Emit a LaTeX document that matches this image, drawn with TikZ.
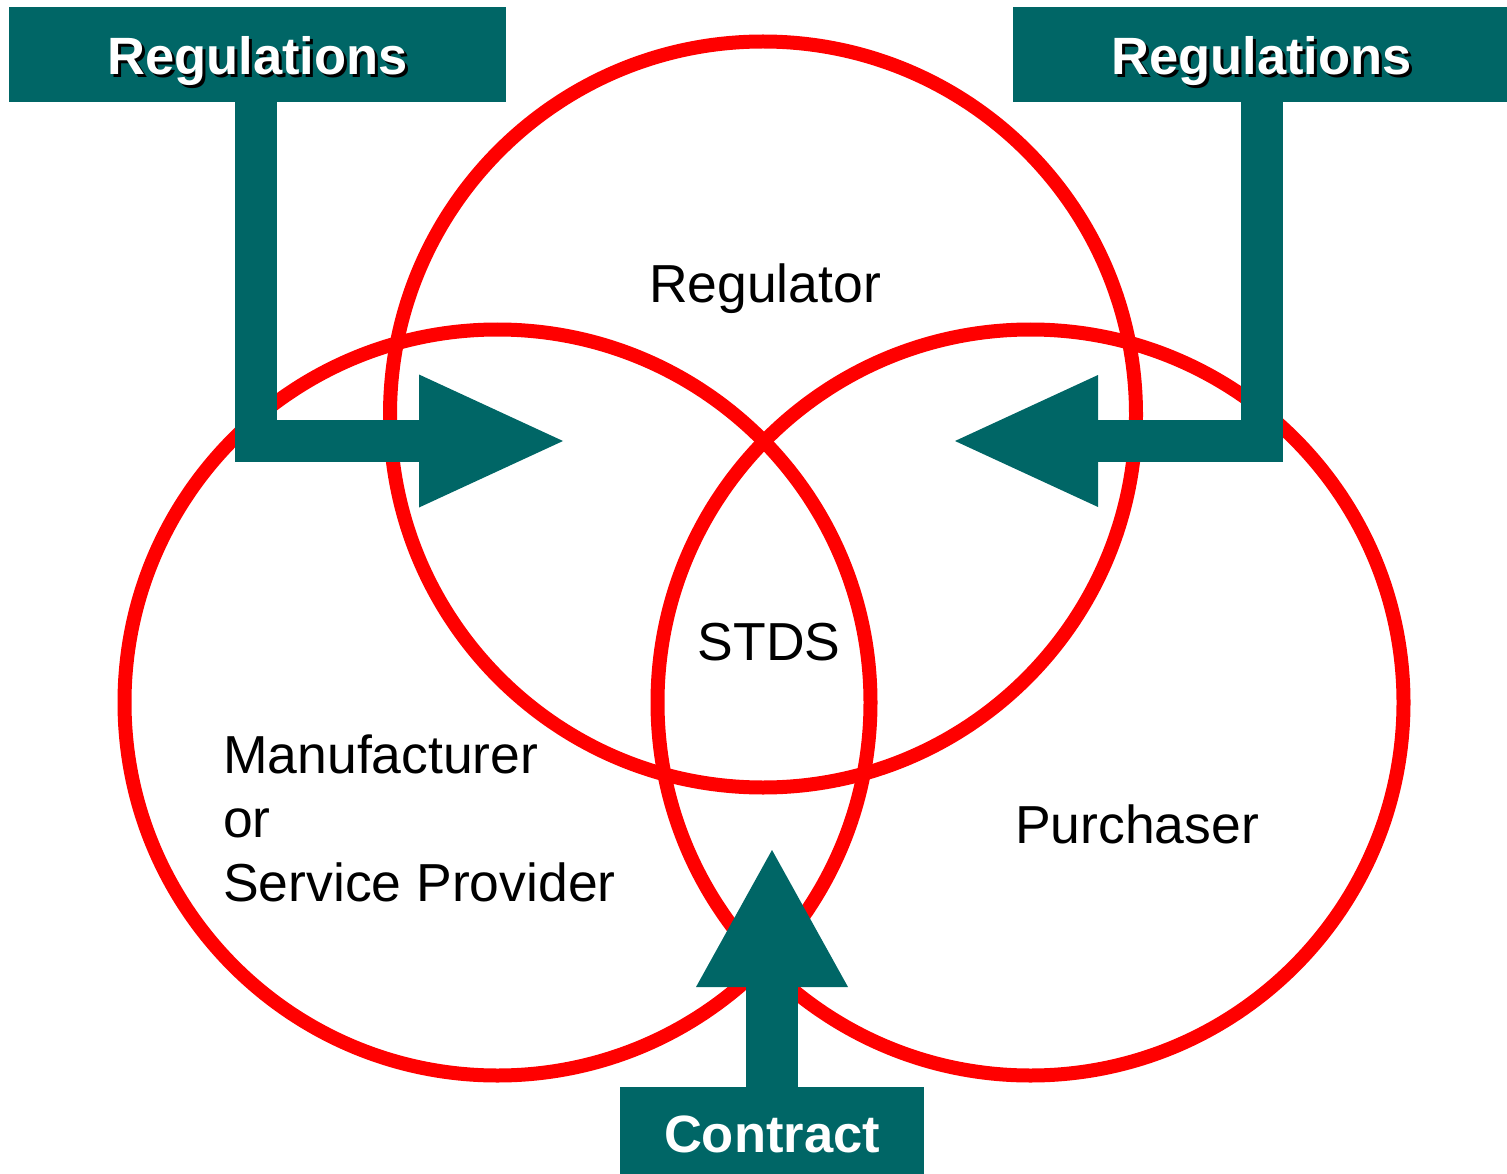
\documentclass[tikz,border=0pt]{standalone}
\usepackage{fontspec}
\setmainfont{Liberation Sans}
\usetikzlibrary{arrows.meta}
\definecolor{teal66}{RGB}{0,102,102}
\definecolor{vred}{RGB}{255,0,0}
\newcommand{\shadowtext}[1]{\makebox[0pt][l]{\hspace{3pt}\raisebox{-3pt}{\textcolor{black}{#1}}}#1}
\begin{document}
\begin{tikzpicture}[x=1pt,y=-1pt,
  big/.style={font=\fontsize{53.5}{64}\selectfont, inner sep=0pt},
  ring/.style={draw=vred, line width=14pt},
  tbox/.style={fill=teal66, text=white, inner sep=0pt, minimum width=497pt,
     font=\fontsize{52.5}{64}\selectfont\bfseries},
  blockarr/.style={draw=teal66, line join=miter, line cap=butt}
]
\useasboundingbox (0,0) rectangle (1507,1174);
% circles
\draw[ring] (763,414.5) circle[radius=373];
\draw[ring] (497.5,702.5) circle[radius=373];
\draw[ring] (1030.5,702.5) circle[radius=373];
% boxes
\node[tbox, text height=67.5pt, text depth=27.5pt] (regL) at (257.5,54.5) {\shadowtext{Regulations}};
\node[tbox, text height=67.5pt, text depth=27.5pt] (regR) at (1261.5,54.5) {\shadowtext{Regulations}};
\node[tbox, minimum width=304pt, text height=65pt, text depth=30pt] (con) at (772,1134.5) {Contract};
% arrow tips
\coordinate (tipL) at (563,441);
\coordinate (tipR) at (955,441);
\coordinate (tipC) at (772,850);
\draw[blockarr, line width=42pt, -{Triangle[length=144pt,width=133pt,line width=0pt]}]
  ([xshift=-1.5pt]regL.south) |- (tipL);
\draw[blockarr, line width=42pt, -{Triangle[length=143pt,width=132pt,line width=0pt]}]
  ([xshift=0.5pt]regR.south) |- (tipR);
\draw[blockarr, line width=52pt, -{Triangle[length=137pt,width=152pt,line width=0pt]}]
  (con.north) -- (tipC);
% labels
\node[big, anchor=base] (regulator) at (765,303) {Regulator};
\node[big, anchor=base] (stds) at (769,660) {STDS};
\node[big, anchor=base] (purch) at (1137,843) {Purchaser};
\node[big, anchor=base west, align=left] (manu) at (223,901) {Manufacturer\\or\\Service Provider};
\end{tikzpicture}
\end{document}
